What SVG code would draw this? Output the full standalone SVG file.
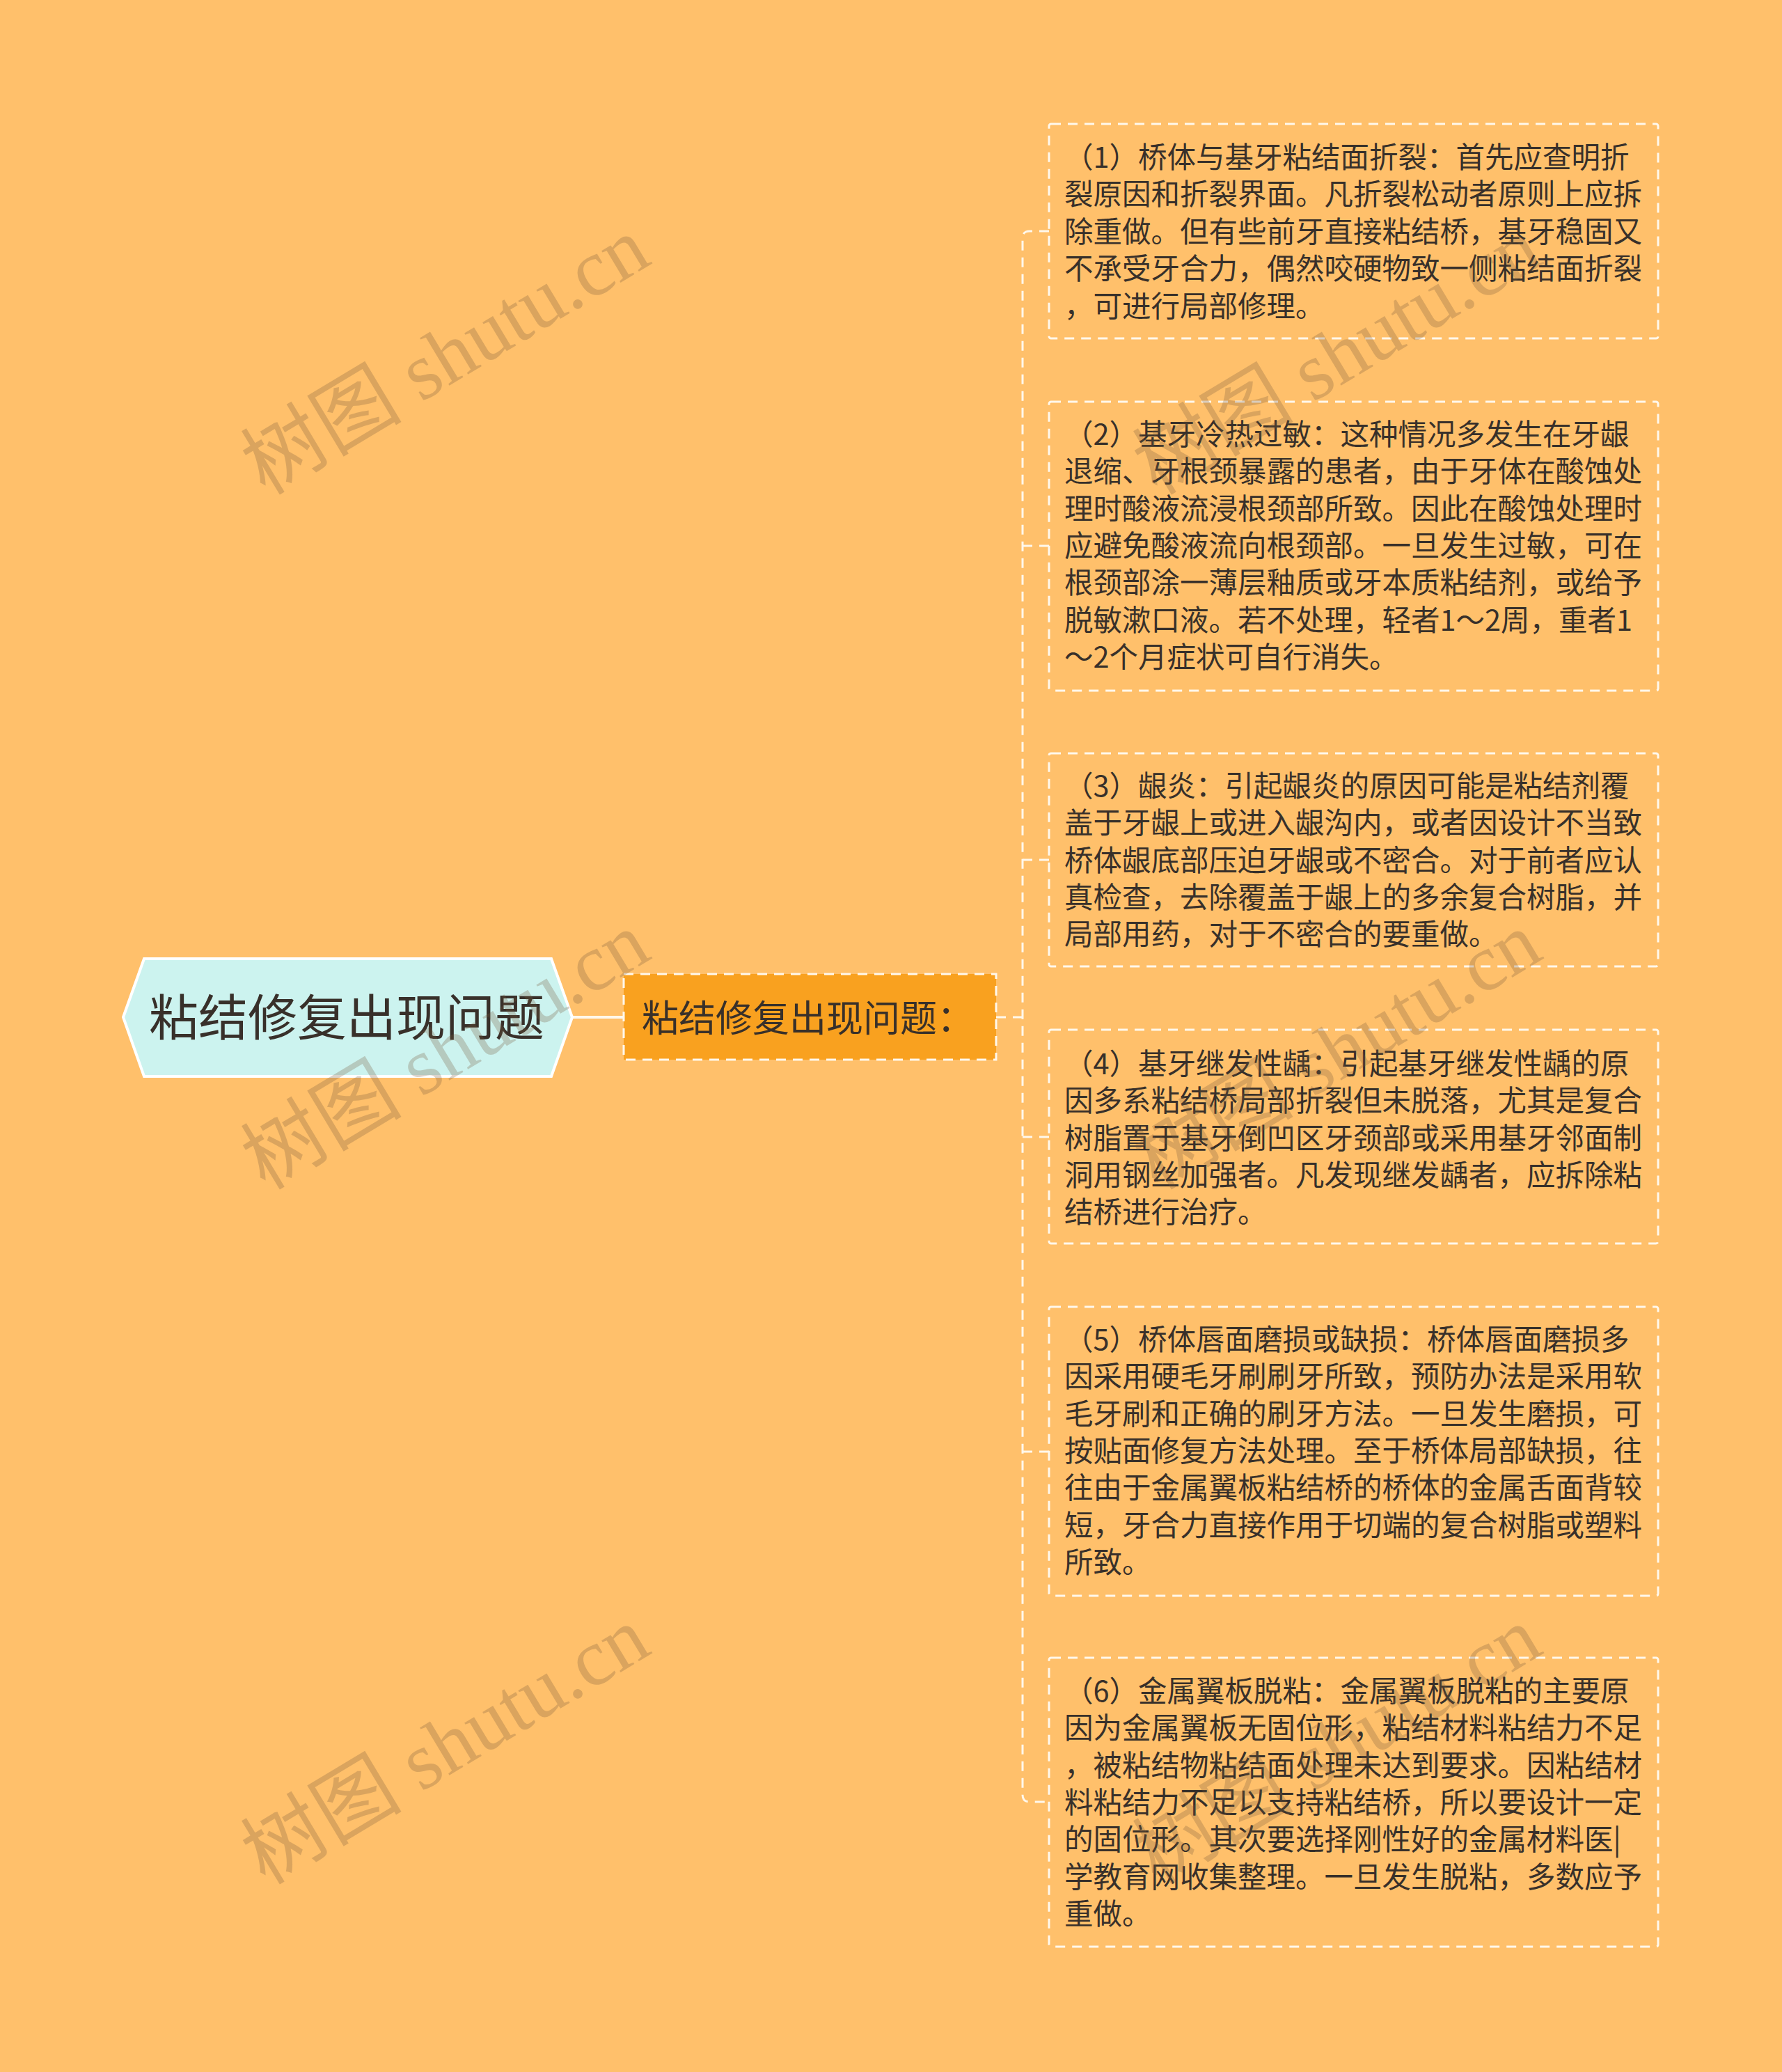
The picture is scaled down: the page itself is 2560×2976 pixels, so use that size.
<svg xmlns="http://www.w3.org/2000/svg" width="2560" height="2976" viewBox="0 0 2560 2976">
<style>
.bg{fill:#ffc06b}
.leaf{fill:none;stroke:#fff8ec;stroke-width:3;stroke-dasharray:14 10}
.conn{fill:none;stroke:#fff8ec;stroke-width:3;stroke-dasharray:14 10}
.t{font-family:"Noto Sans CJK SC","Noto Sans",sans-serif;fill:#38302a}
.lt{font-size:41.5px}
.wm{font-family:"Liberation Serif","Noto Sans CJK SC",serif;font-size:116px;fill:#785a3c;fill-opacity:0.27}
</style>
<rect class="bg" x="0" y="0" width="2560" height="2976"/>

<g id="connectors">
  <line x1="822" y1="1461" x2="896" y2="1461" stroke="#fff8ec" stroke-width="4"/>
  <line class="conn" x1="1431" y1="1461" x2="1469" y2="1461"/>
  <path class="conn" d="M1507,332 H1479 Q1469,332 1469,342 V2578 Q1469,2588 1479,2588 H1507"/>
  <line class="conn" x1="1469" y1="784" x2="1507" y2="784"/>
  <line class="conn" x1="1469" y1="1235" x2="1507" y2="1235"/>
  <line class="conn" x1="1469" y1="1633" x2="1507" y2="1633"/>
  <line class="conn" x1="1469" y1="2085" x2="1507" y2="2085"/>
</g>

<g id="root">
  <polygon points="177,1461 207,1377 792,1377 822,1461 792,1546 207,1546" fill="#ccf3ef" stroke="#ffffff" stroke-width="4"/>
  <text class="t" x="498" y="1487" font-size="71" text-anchor="middle">粘结修复出现问题</text>
</g>

<g id="sub">
  <rect x="896" y="1399" width="535" height="123" fill="#f9a11f" stroke="#fff8ec" stroke-width="3" stroke-dasharray="14 10"/>
  <text class="t" x="922" y="1482" font-size="53">粘结修复出现问题：</text>
</g>

<g id="n1">
  <rect class="leaf" x="1507" y="178" width="875" height="308" rx="3"/>
  <text class="t lt" x="1529">
    <tspan x="1529" y="241">（1）桥体与基牙粘结面折裂：首先应查明折</tspan>
    <tspan x="1529" y="294.4">裂原因和折裂界面。凡折裂松动者原则上应拆</tspan>
    <tspan x="1529" y="347.8">除重做。但有些前牙直接粘结桥，基牙稳固又</tspan>
    <tspan x="1529" y="401.2">不承受牙合力，偶然咬硬物致一侧粘结面折裂</tspan>
    <tspan x="1529" y="454.6">，可进行局部修理。</tspan>
  </text>
</g>

<g id="n2">
  <rect class="leaf" x="1507" y="577" width="875" height="415" rx="3"/>
  <text class="t lt">
    <tspan x="1529" y="639">（2）基牙冷热过敏：这种情况多发生在牙龈</tspan>
    <tspan x="1529" y="692.3">退缩、牙根颈暴露的患者，由于牙体在酸蚀处</tspan>
    <tspan x="1529" y="745.6">理时酸液流浸根颈部所致。因此在酸蚀处理时</tspan>
    <tspan x="1529" y="798.9">应避免酸液流向根颈部。一旦发生过敏，可在</tspan>
    <tspan x="1529" y="852.2">根颈部涂一薄层釉质或牙本质粘结剂，或给予</tspan>
    <tspan x="1529" y="905.5">脱敏漱口液。若不处理，轻者1～2周，重者1</tspan>
    <tspan x="1529" y="958.8">～2个月症状可自行消失。</tspan>
  </text>
</g>

<g id="n3">
  <rect class="leaf" x="1507" y="1082" width="875" height="306" rx="3"/>
  <text class="t lt">
    <tspan x="1529" y="1144">（3）龈炎：引起龈炎的原因可能是粘结剂覆</tspan>
    <tspan x="1529" y="1197.3">盖于牙龈上或进入龈沟内，或者因设计不当致</tspan>
    <tspan x="1529" y="1250.6">桥体龈底部压迫牙龈或不密合。对于前者应认</tspan>
    <tspan x="1529" y="1303.9">真检查，去除覆盖于龈上的多余复合树脂，并</tspan>
    <tspan x="1529" y="1357.2">局部用药，对于不密合的要重做。</tspan>
  </text>
</g>

<g id="n4">
  <rect class="leaf" x="1507" y="1479" width="875" height="307" rx="3"/>
  <text class="t lt">
    <tspan x="1529" y="1543">（4）基牙继发性龋：引起基牙继发性龋的原</tspan>
    <tspan x="1529" y="1596.3">因多系粘结桥局部折裂但未脱落，尤其是复合</tspan>
    <tspan x="1529" y="1649.6">树脂置于基牙倒凹区牙颈部或采用基牙邻面制</tspan>
    <tspan x="1529" y="1702.9">洞用钢丝加强者。凡发现继发龋者，应拆除粘</tspan>
    <tspan x="1529" y="1756.2">结桥进行治疗。</tspan>
  </text>
</g>

<g id="n5">
  <rect class="leaf" x="1507" y="1877" width="875" height="415" rx="3"/>
  <text class="t lt">
    <tspan x="1529" y="1939">（5）桥体唇面磨损或缺损：桥体唇面磨损多</tspan>
    <tspan x="1529" y="1992.3">因采用硬毛牙刷刷牙所致，预防办法是采用软</tspan>
    <tspan x="1529" y="2045.6">毛牙刷和正确的刷牙方法。一旦发生磨损，可</tspan>
    <tspan x="1529" y="2098.9">按贴面修复方法处理。至于桥体局部缺损，往</tspan>
    <tspan x="1529" y="2152.2">往由于金属翼板粘结桥的桥体的金属舌面背较</tspan>
    <tspan x="1529" y="2205.5">短，牙合力直接作用于切端的复合树脂或塑料</tspan>
    <tspan x="1529" y="2258.8">所致。</tspan>
  </text>
</g>

<g id="n6">
  <rect class="leaf" x="1507" y="2381" width="875" height="415" rx="3"/>
  <text class="t lt">
    <tspan x="1529" y="2444">（6）金属翼板脱粘：金属翼板脱粘的主要原</tspan>
    <tspan x="1529" y="2497.3">因为金属翼板无固位形，粘结材料粘结力不足</tspan>
    <tspan x="1529" y="2550.6">，被粘结物粘结面处理未达到要求。因粘结材</tspan>
    <tspan x="1529" y="2603.9">料粘结力不足以支持粘结桥，所以要设计一定</tspan>
    <tspan x="1529" y="2657.2">的固位形。其次要选择刚性好的金属材料医|</tspan>
    <tspan x="1529" y="2710.5">学教育网收集整理。一旦发生脱粘，多数应予</tspan>
    <tspan x="1529" y="2763.8">重做。</tspan>
  </text>
</g>

<g id="watermarks">
  <text class="wm" text-anchor="middle" transform="translate(660,545) rotate(-31)">树图 shutu.cn</text>
  <text class="wm" text-anchor="middle" transform="translate(660,1543) rotate(-31)">树图 shutu.cn</text>
  <text class="wm" text-anchor="middle" transform="translate(660,2541) rotate(-31)">树图 shutu.cn</text>
  <text class="wm" text-anchor="middle" transform="translate(1941,545) rotate(-31)">树图 shutu.cn</text>
  <text class="wm" text-anchor="middle" transform="translate(1941,1543) rotate(-31)">树图 shutu.cn</text>
  <text class="wm" text-anchor="middle" transform="translate(1941,2541) rotate(-31)">树图 shutu.cn</text>
</g>
</svg>
